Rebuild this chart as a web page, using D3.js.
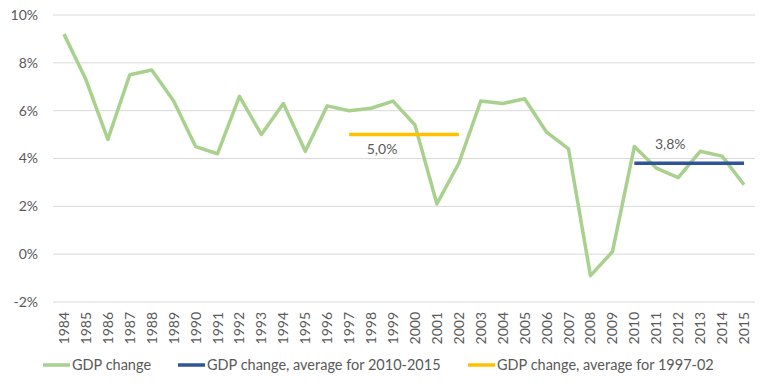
<!DOCTYPE html>
<html>
<head>
<meta charset="utf-8">
<script src="https://cdn.jsdelivr.net/npm/d3@7"></script>
<style>
  body { margin: 0; background: #fff; }
  text { font-family: Lato, "Open Sans", sans-serif; fill: #595959; }
</style>
</head>
<body>
<div id="chart"></div>
<script>
const years = d3.range(1984, 2016);
const gdpChange = [9.2, 7.3, 4.8, 7.5, 7.7, 6.4, 4.5, 4.2, 6.6, 5.0,
  6.3, 4.3, 6.2, 6.0, 6.1, 6.4, 5.4, 2.1, 3.8, 6.4,
  6.3, 6.5, 5.1, 4.4, -0.9, 0.1, 4.5, 3.6, 3.2, 4.3,
  4.1, 2.9];
const avgRecent = { from: 2010, to: 2015, value: 3.8, label: '3,8%' };
const avgOld = { from: 1997, to: 2002, value: 5.0, label: '5,0%' };
const yTicks = [-2, 0, 2, 4, 6, 8, 10];
const legendItems = ['GDP change', 'GDP change, average for 2010-2015', 'GDP change, average for 1997-02'];
const colors = ['#A9D18E', '#2F5597', '#FFC000'];

const width = 768, height = 388;
const svg = d3.select('#chart').append('svg')
  .attr('width', width)
  .attr('height', height);

const x = d3.scaleBand().domain(years).range([53, 755]);
const y = d3.scaleLinear().domain([-2, 10]).range([302, 15]);
const cx = d => x(d) + x.bandwidth() / 2;

// gridlines
svg.append('g')
  .selectAll('line')
  .data(yTicks)
  .join('line')
    .attr('x1', 53).attr('x2', 755)
    .attr('y1', d => y(d)).attr('y2', d => y(d))
    .attr('stroke', '#D9D9D9')
    .attr('stroke-width', 1);

// y labels
svg.append('g')
  .selectAll('text')
  .data(yTicks)
  .join('text')
    .attr('x', 38)
    .attr('y', d => y(d))
    .attr('dy', '0.35em')
    .attr('text-anchor', 'end')
    .style('font-size', '14px')
    .text(d => d + '%');

// x labels
svg.append('g')
  .selectAll('text')
  .data(years)
  .join('text')
    .attr('transform', d => `translate(${cx(d) + 5},312) rotate(-90)`)
    .attr('text-anchor', 'end')
    .style('font-size', '14px')
    .text(d => d);

// GDP line
const line = d3.line()
  .x((d, i) => cx(years[i]))
  .y(d => y(d));

svg.append('path')
  .datum(gdpChange)
  .attr('d', line)
  .attr('fill', 'none')
  .attr('stroke', colors[0])
  .attr('stroke-width', 3.5)
  .attr('stroke-linejoin', 'round');

// average lines
const avgs = [avgRecent, avgOld];
svg.append('g')
  .selectAll('line')
  .data(avgs)
  .join('line')
    .attr('x1', d => cx(d.from))
    .attr('x2', d => cx(d.to))
    .attr('y1', d => y(d.value))
    .attr('y2', d => y(d.value))
    .attr('stroke', (d, i) => colors[i + 1])
    .attr('stroke-width', 3.5);

svg.append('text')
  .attr('x', cx(2012) - 8)
  .attr('y', y(avgRecent.value) - 19)
  .attr('dy', '0.35em')
  .attr('text-anchor', 'middle')
  .style('font-size', '14px')
  .text(avgRecent.label);

svg.append('text')
  .attr('x', (cx(1998) + cx(1999)) / 2)
  .attr('y', y(avgOld.value) + 15)
  .attr('dy', '0.35em')
  .attr('text-anchor', 'middle')
  .style('font-size', '14px')
  .text(avgOld.label);

// legend
const legendX = [43, 178, 468];
const legend = svg.append('g')
  .selectAll('g')
  .data(legendItems)
  .join('g')
    .attr('transform', (d, i) => `translate(${legendX[i]},365)`);

legend.append('line')
  .attr('x1', 0).attr('x2', 27)
  .attr('stroke', (d, i) => colors[i])
  .attr('stroke-width', 3.5);

legend.append('text')
  .attr('x', 29)
  .attr('dy', '0.35em')
  .style('font-size', '14.5px')
  .text(d => d);
</script>
</body>
</html>
